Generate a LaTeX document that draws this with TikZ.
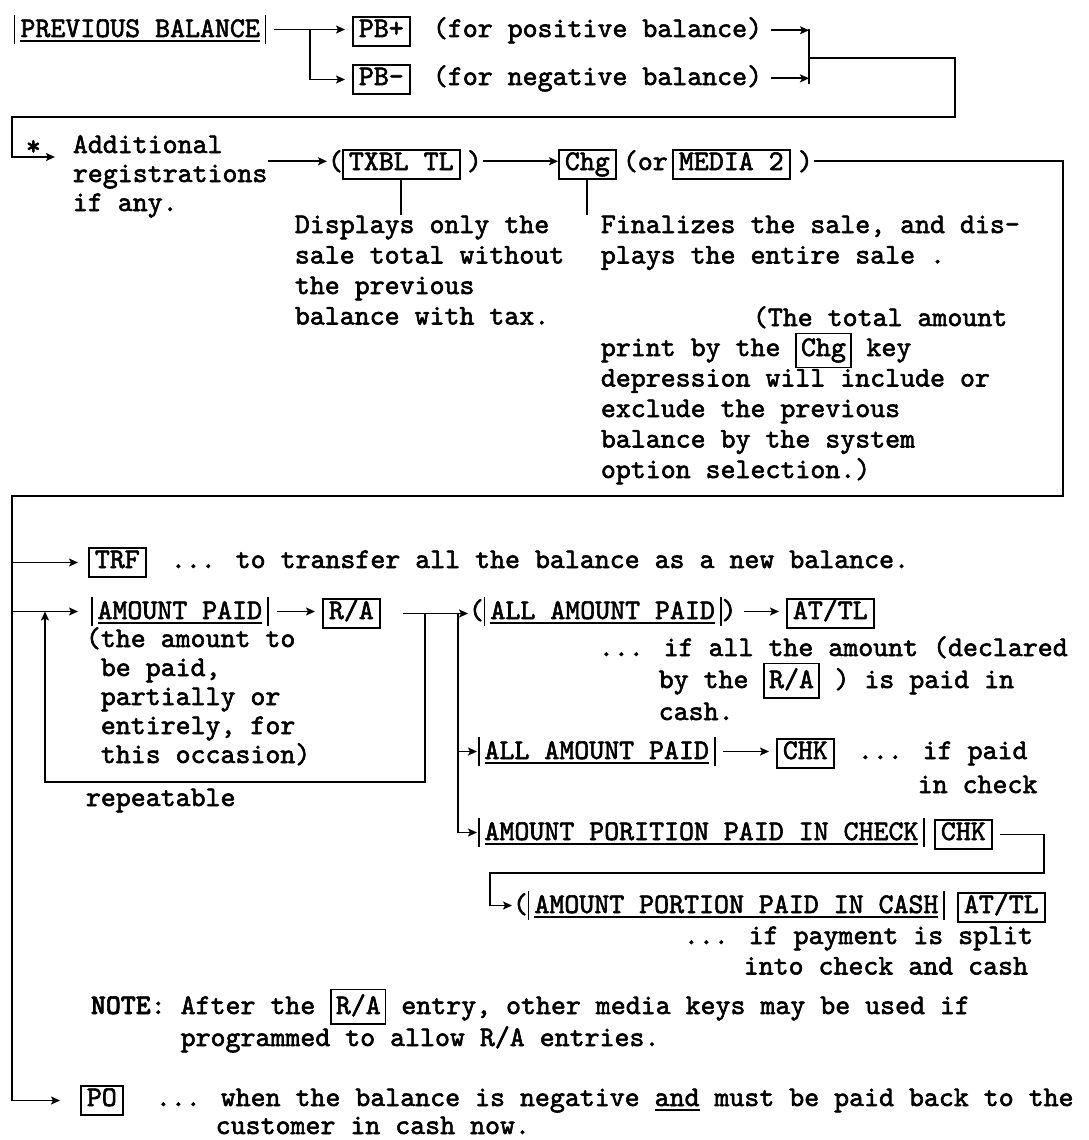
\documentclass[tikz,border=0pt]{standalone}
\usepackage{fontspec}
\usepackage{tikz}
\usetikzlibrary{arrows.meta}
\newfontfamily\twfont{lmmono10-regular.otf}[BoldFont=lmmonolt10-bold.otf, FakeBold=2]
\newcommand\tw{\twfont\fontsize{28.5pt}{30.5pt}\selectfont}
\newcommand\undl[1]{\setbox0\hbox{#1}\rlap{\rule[-5pt]{\wd0}{1.6pt}}\box0\relax}
\newcommand\amt[1]{\vrule height 22pt depth 7pt width 1.6pt\kern5pt\undl{#1}\kern5pt\vrule height 22pt depth 7pt width 1.6pt}
\newcommand\kbox[1]{{\fboxsep=4pt\fboxrule=1.6pt\fbox{\vrule width 0pt height 16pt depth 5pt\relax #1}}}

\begin{document}
\begin{tikzpicture}[x=1pt, y=-1pt, line width=1.8pt, >={Stealth[length=9pt,width=8pt,inset=2pt]}]

    \tikzstyle{key} = [draw, anchor=base west, inner xsep=6pt, inner ysep=4pt, text height=16pt, text depth=5pt, font=\tw]
    \tikzstyle{txt} = [anchor=base west, inner sep=0pt, align=left, font=\tw]
    \tikzstyle{tw} = [->, shorten <=7pt, shorten >=7pt]

    \useasboundingbox (0,0) rectangle (1088,1140);

    % Nodes
    \node[txt] at (13,37) (prev) {\amt{PREVIOUS BALANCE}};
    \node[key] at (352,37) (pbplus) {PB+};
    \node[key] at (352,85) (pbminus) {PB-};
    \node[txt] at (432,37) (posnote) {(for positive balance)};
    \node[txt] at (432,85) (negnote) {(for negative balance)};

    \node[txt] at (25,155) (star) {*};
    \node[txt, font={\tw\baselineskip=29pt}] at (72,211) (addl) {Additional\\registrations\\if any.};
    \node[txt] at (327,170) (lpar) {(};
    \node[key] at (342,170) (txbl) {TXBL TL};
    \node[txt] at (466,170) (rpar) {)};
    \node[key] at (558,170) (chg) {Chg};
    \node[txt] at (622,170) (ornote) {(or};
    \node[key] at (672,170) (media) {MEDIA 2};
    \node[txt] at (797,170) (rpar2) {)};

    \node[key] at (88,568) (trf) {TRF};
    \node[txt] at (90,619) (amtpaid) {\amt{AMOUNT PAID}};
    \node[key] at (322,619) (rabox) {R/A};
    \node[txt] at (468,619) (allpaid) {(\amt{ALL AMOUNT PAID})};
    \node[key] at (786,619) (atl1) {AT/TL};
    \node[txt] at (477,759) (allpaid2) {\amt{ALL AMOUNT PAID}};
    \node[key] at (776,759) (chk1) {CHK};
    \node[txt] at (477,840) (porchk) {\amt{AMOUNT PORITION PAID IN CHECK}};
    \node[key] at (934,840) (chk2) {CHK};
    \node[txt] at (512,913) (porcash) {(\amt{AMOUNT PORTION PAID IN CASH}};
    \node[key] at (957,913) (atl2) {AT/TL};
    \node[key] at (80,1106) (po) {PO};

    % Corners
    \coordinate (fork) at (310,29.5);
    \coordinate (brT) at (809,29);
    \coordinate (brB) at (809,84);
    \coordinate (brM) at (809,58);
    \coordinate (topR) at (955,58);
    \coordinate (topL) at (12,117);
    \coordinate (regin) at (55,157);
    \coordinate (frR) at (1063,496);
    \coordinate (frL) at (12,496);
    \coordinate (loopA) at (425,613);
    \coordinate (loopB) at (45,782);
    \coordinate (split) at (458,613);
    \coordinate (bendR) at (1044,873);
    \coordinate (bendL) at (490,873);

    % Labels
    \node[txt] at (294,324.5) (disp) {Displays only the\\sale total without\\the previous\\balance with tax.};
    \node[txt] at (600,263.5) (fin) {Finalizes the sale, and dis-\\plays the entire sale .};
    \node[txt] at (752,326) (totnote) {(The total amount};
    \node[txt] at (600,478) (optnote) {print by the \kbox{Chg} key\\depression will include or\\exclude the previous\\balance by the system\\option selection.)};
    \node[txt] at (170,568) (trfnote) {... to transfer all the balance as a new balance.};
    \node[txt, font={\tw\baselineskip=29pt}] at (85,763) (paidnote) {(the amount to\\\hphantom{(}be paid,\\\hphantom{(}partially or\\\hphantom{(}entirely, for\\\hphantom{(}this occasion)};
    \node[txt] at (85,806) (rep) {repeatable};
    \node[txt, font={\tw\baselineskip=32pt}] at (598,720) (declnote) {... if all the amount (declared\\\hphantom{...~}by the \kbox{R/A} ) is paid in\\\hphantom{...~}cash.};
    \node[txt, font={\tw\baselineskip=34pt}] at (857,793) (paidnote2) {... if paid\\\hphantom{...~}in check};
    \node[txt] at (683,974.5) (splitnote) {... if payment is split\\\hphantom{...~}into check and cash};
    \node[txt, font={\tw\baselineskip=32pt}] at (90,1046) (note) {\textbf{NOTE}: After the \kbox{R/A} entry, other media keys may be used if\\\hphantom{NOTE:~}programmed to allow R/A entries.};
    \node[txt, font={\tw\baselineskip=28pt}] at (155,1134) (ponote) {... when the balance is negative \undl{and} must be paid back to the\\\hphantom{...~}customer in cash now.};

    % Arrows
    \draw[tw] (prev.east) -- (prev.east -| pbplus.west);
    \draw[->, shorten >=7pt] (fork) |- (pbminus.west);
    \draw[->, shorten <=8pt] (posnote.east) -- (posnote.east -| brT);
    \draw[->, shorten <=8pt] (negnote.east) -- (negnote.east -| brB);
    \draw (brT) -- (brB);
    \draw[->] (brM) -- (topR) |- (topL) |- (regin);
    \draw[->] (addl.east |- lpar.west) -- (lpar.west);
    \draw (txbl.south) -- (txbl.south |- disp.north);
    \draw[->] (rpar.east) -- (rpar.east -| chg.west);
    \draw (chg.south) -- (chg.south |- fin.north);
    \draw[->, shorten >=20pt] (rpar2.east) -| (frR) -- (frL) |- (po.west);

    \draw[->, shorten >=10pt] (frL |- trf.west) -- (trf.west);
    \draw[->, shorten >=12pt] (frL |- amtpaid.west) -- (amtpaid.west);
    \draw[tw] (amtpaid.east) -- (amtpaid.east -| rabox.west);
    \draw[->, shorten <=22pt] (rabox.east) -- (rabox.east -| allpaid.west);
    \draw[->] (loopA) |- (loopB) -- (loopB |- amtpaid.west);
    \draw[->] (split) |- (porchk.west);
    \draw[->] (split |- allpaid2.west) -- (allpaid2.west);
    \draw[tw] (allpaid.east) -- (allpaid.east -| atl1.west);
    \draw[tw] (allpaid2.east) -- (allpaid2.east -| chk1.west);
    \draw[->, shorten <=7pt] (chk2.east) -| (bendR) -- (bendL) |- (porcash.west);

\end{tikzpicture}
\end{document}
